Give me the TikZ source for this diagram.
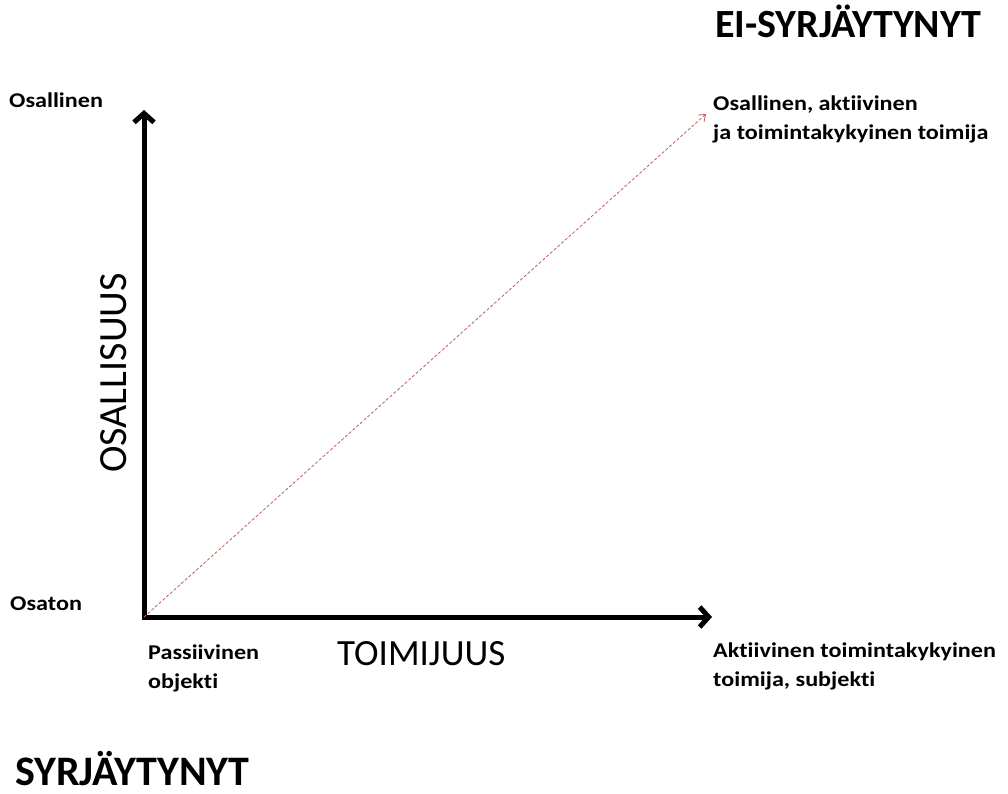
\documentclass[tikz,border=0pt]{standalone}
\usepackage{fontspec}
\setmainfont{Carlito}[RawFeature=-liga]
\newfontfamily\lblfont[FakeStretch=1.15,RawFeature=-liga]{Carlito}
\usetikzlibrary{arrows.meta}
\definecolor{dashred}{RGB}{190,95,95}
\begin{document}
\begin{tikzpicture}[x=1pt,y=-1pt,
  lbl/.style={inner sep=0pt,anchor=base west,align=left,font=\lblfont\bfseries\fontsize{21}{29}\selectfont},
  big/.style={inner sep=0pt,anchor=base west,font=\bfseries\fontsize{40}{42}\selectfont},
  axislbl/.style={inner sep=0pt,font=\fontsize{37}{40}\selectfont},
  axis/.style={line width=5pt,-{Straight Barb[length=9pt,width=20pt]}},
  diag/.style={dashred,line width=0.8pt,dash pattern=on 3pt off 2pt,-{Straight Barb[length=6pt,width=9pt,line width=0.8pt]}}]
\useasboundingbox[fill=white] (0,0) rectangle (1008,794);
\coordinate (O) at (144,617);
\coordinate (Ytip) at (144,110);
\coordinate (Xtip) at (712,617);
\coordinate (Dtip) at (706,114);
\draw[axis] ([yshift=2.5pt]O) -- (Ytip);
\draw[axis] ([xshift=-2.5pt]O) -- (Xtip);
\draw[diag] (O) -- (Dtip);
\node[big] (ei) at (715,38) {EI-SYRJÄYTYNYT};
\node[big,font=\bfseries\fontsize{42}{44}\selectfont] (syr) at (15,785) {SYRJÄYTYNYT};
\node[lbl] (osal) at (9,108) {Osallinen};
\node[lbl] (osat) at (10,610) {Osaton};
\node[lbl] (pass) at (148,688) {Passiivinen\\objekti};
\node[lbl] (oat) at (713,140) {Osallinen, aktiivinen\\ja toimintakykyinen toimija};
\node[lbl] (akt) at (713,686) {Aktiivinen toimintakykyinen\\toimija, subjekti};
\node[axislbl,anchor=base west] (toim) at (337,665) {TOIMIJUUS};
\node[axislbl,rotate=90,font=\fontsize{40}{42}\selectfont] (osallisuus) at (114,373) {OSALLISUUS};
\end{tikzpicture}
\end{document}
